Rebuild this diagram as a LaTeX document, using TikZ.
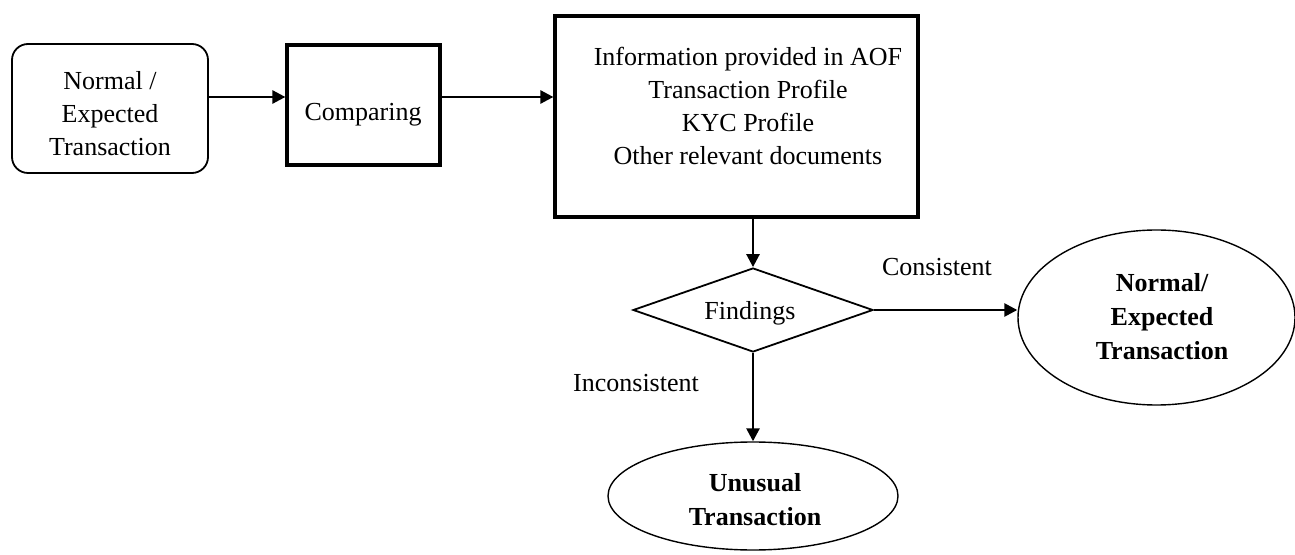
\documentclass[tikz,border=0pt]{standalone}
\usepackage{fontspec}
\setmainfont{Liberation Serif}
\usetikzlibrary{shapes.geometric,arrows.meta}
\begin{document}
\begin{tikzpicture}[x=0.5pt,y=-0.5pt,
  txt/.style={align=center,font=\fontsize{13}{16.5}\selectfont,inner sep=0pt},
  btxt/.style={txt,font=\fontsize{13}{17}\selectfont\bfseries},
  roundbox/.style={draw,line width=0.9pt,rounded corners=8pt,inner sep=0pt},
  heavybox/.style={draw,line width=1.6pt,inner sep=0pt},
  decision/.style={draw,diamond,line width=0.9pt,inner sep=0pt},
  oval/.style={draw,ellipse,line width=0.7pt,inner sep=0pt},
  arr/.style={line width=1.3pt,-{Triangle[length=6.5pt,width=6.5pt]}}
]
\useasboundingbox (0,0) rectangle (1295,555);

\node[roundbox,minimum width=98pt,minimum height=64.5pt] (n1) at (110,108.5) {};
\node[txt] (n1t) at (110,114) {Normal /\\Expected\\Transaction};

\node[heavybox,minimum width=76.5pt,minimum height=60pt] (cmp) at (363.5,105) {};
\node[txt] (cmpt) at (363,115) {Comparing};

\node[heavybox,minimum width=181.5pt,minimum height=100.5pt] (big) at (736.5,116.5) {};
\node[txt] (bigt) at (748,106) {Information provided in AOF\\Transaction Profile\\KYC Profile\\Other relevant documents};

\node[decision,minimum width=120pt,minimum height=42pt] (dia) at (753,310) {};
\node[txt] (diat) at (750,313) {Findings};

\node[oval,minimum width=145pt,minimum height=54pt] (unu) at (753,496) {};
\node[btxt] (unut) at (755,500) {Unusual\\Transaction};

\node[oval,minimum width=138.5pt,minimum height=87.5pt] (nrm) at (1156.5,317.5) {};
\node[btxt] (nrmt) at (1162,317) {Normal/\\Expected\\Transaction};

\node[txt] (lcons) at (937,267) {Consistent};
\node[txt] (lincons) at (636,383) {Inconsistent};

\coordinate (row) at (0,97);
\draw[arr] (n1.east |- row) -- (cmp.west |- row);
\draw[arr] (cmp.east |- row) -- (big.west |- row);
\draw[arr] (big.south -| dia.north) -- (dia.north);
\draw[arr] (dia.south) -- (unu.north);
\draw[arr] (dia.east) -- (dia.east -| nrm.west);
\end{tikzpicture}
\end{document}
